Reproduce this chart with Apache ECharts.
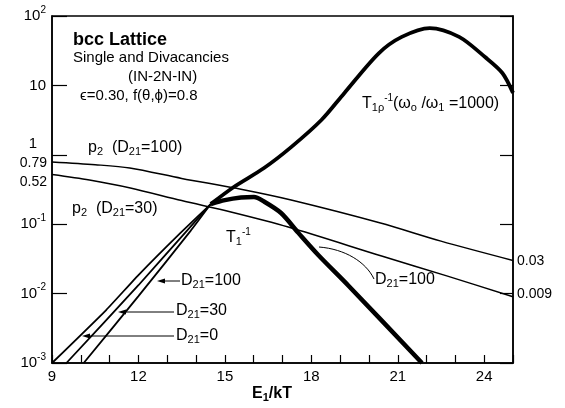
<!DOCTYPE html>
<html><head><meta charset="utf-8">
<script src="https://cdn.jsdelivr.net/npm/echarts@6/dist/echarts.min.js"></script>
<style>html,body{margin:0;padding:0;background:#fff}#c{width:565px;height:408px}</style>
</head><body><div id="c"></div>
<script>
// ---- data ----
const xTickLabels = [9, 12, 15, 18, 21, 24];
const yTickLabels = ['10^2', '10', '1', '10^-1', '10^-2', '10^-3'];

const p2D100X = [9, 10.5, 11.7, 13.5, 15.6, 17.3, 20.4, 22.5, 25];
const p2D100Y = [0.79, 0.72, 0.645, 0.457, 0.316, 0.223, 0.104, 0.057, 0.03];

const p2D30X = [9, 10.3, 11.72, 13.5, 15.21, 17.2, 20.44, 22.7, 25];
const p2D30Y = [0.52, 0.434, 0.333, 0.219, 0.150, 0.091, 0.0348, 0.018, 0.009];

const riseD0X = [9, 10.88, 12, 13.46, 14.51];
const riseD0Y = [0.001, 0.0058, 0.0185, 0.075, 0.195];
const riseD30X = [9.5, 12, 13.64, 14.51];
const riseD30Y = [0.001, 0.0132, 0.077, 0.195];
const riseD100X = [10.1, 12, 13.81, 14.51];
const riseD100Y = [0.001, 0.0092, 0.08, 0.195];

const t1rhoX = [14.51, 15.31, 16.36, 17.30, 18.35, 19.15, 20.34, 21.14, 22.11, 23.13, 24.03, 24.63, 25];
const t1rhoY = [0.195, 0.344, 0.645, 1.29, 3.17, 7.8, 29, 50, 67, 50, 25.6, 15.1, 7.8];

const t1X = [14.51, 15.0, 15.56, 16.01, 16.36, 16.95, 17.55, 18.24, 19.29, 21.84];
const t1Y = [0.195, 0.222, 0.242, 0.247, 0.212, 0.145, 0.075, 0.036, 0.013, 0.001];

function pairs(xs, ys) { return xs.map((x, i) => [x, ys[i]]); }

const FONT = 'Liberation Sans';
const sub = { fontSize: 11, fontFamily: FONT, fill: '#000', padding: [8, 0, 0, 0] };
const sup = { fontSize: 10, fontFamily: FONT, fill: '#000', padding: [0, 0, 12, 0] };
const chart = echarts.init(document.getElementById('c'));

function line(name, xs, ys, w, sm) {
  return { name, type: 'line', data: pairs(xs, ys), showSymbol: false, smooth: sm,
    lineStyle: { color: '#000', width: w }, itemStyle: { color: '#000' }, z: 3, silent: true };
}

function txt(x, y, text, size, extra) {
  return Object.assign({ type: 'text', x, y, z: 10,
    style: { text, fontSize: size, fontFamily: FONT, fill: '#000',
      align: 'left', verticalAlign: 'middle', textAlign: 'left', textVerticalAlign: 'middle',
      rich: { s: Object.assign({}, sub), u: Object.assign({}, sup) } } }, extra || {});
}
function arrowLeft(x1, x2, y) {
  return [
    { type: 'line', shape: { x1: x1 + 4, y1: y, x2: x2, y2: y }, style: { stroke: '#000', lineWidth: 1 } },
    { type: 'polygon', shape: { points: [[x1, y], [x1 + 8, y - 2.5], [x1 + 8, y + 2.5]] }, style: { fill: '#000' } }
  ];
}

const yLabel = (v) => {
  const e = Math.round(Math.log10(v));
  if (e === 0) return '{one|1}';
  if (e === 1) return '10';
  return '10{sup|' + e + '}';
};

chart.setOption({
  animation: false,
  backgroundColor: '#fff',
  grid: { left: 52, right: 52, top: 16, bottom: 45, show: true, borderColor: '#000', borderWidth: 1.5 },
  xAxis: {
    type: 'value', min: 9, max: 25, interval: 1,
    axisLine: { lineStyle: { color: '#000', width: 1.5 } },
    axisTick: { inside: true, length: 8, lineStyle: { color: '#000', width: 1.2 } },
    splitLine: { show: false },
    axisLabel: { color: '#000', fontSize: 15, fontFamily: FONT, margin: 6,
      formatter: (v) => xTickLabels.indexOf(v) >= 0 ? String(v) : '' }
  },
  yAxis: [{
    type: 'log', logBase: 10, min: 0.001, max: 100,
    axisLine: { show: true, lineStyle: { color: '#000', width: 1.5 } },
    axisTick: { show: true, inside: true, length: 15, lineStyle: { color: '#000', width: 1.2 } },
    splitLine: { show: false }, minorTick: { show: false },
    axisLabel: { color: '#000', fontSize: 15, fontFamily: FONT, margin: 6, formatter: yLabel,
      rich: { sup: { fontSize: 10, fontFamily: FONT, padding: [0, 0, 12, 0] },
              one: { fontSize: 15, fontFamily: FONT, padding: [0, 9, 22, 0] } } }
  }, {
    type: 'log', logBase: 10, min: 0.001, max: 100, position: 'right',
    axisLine: { show: true, lineStyle: { color: '#000', width: 1.5 } },
    axisTick: { show: true, inside: true, length: 13, lineStyle: { color: '#000', width: 1.2 } },
    axisLabel: { show: false }, splitLine: { show: false }
  }],
  series: [
    line('p2 D21=100', p2D100X, p2D100Y, 1.5, 0.3),
    line('p2 D21=30', p2D30X, p2D30Y, 1.5, 0.3),
    line('rise D21=0', riseD0X, riseD0Y, 1.8, 0.15),
    line('rise D21=30', riseD30X, riseD30Y, 1.8, 0.15),
    line('rise D21=100', riseD100X, riseD100Y, 1.8, 0.15),
    line('T1rho', t1rhoX, t1rhoY, 3.8, 0.3),
    line('T1', t1X, t1Y, 4.5, 0.3)
  ],
  graphic: [
    txt(73, 40, 'bcc Lattice', 18, { style: { text: 'bcc Lattice', fontSize: 18, fontWeight: 'bold', fontFamily: FONT, fill: '#000', align: 'left', verticalAlign: 'middle' } }),
    txt(73, 58, 'Single and Divacancies', 15),
    txt(128, 77, '(IN-2N-IN)', 15),
    txt(80, 96, 'ϵ=0.30, f(θ,ϕ)=0.8', 15),
    txt(362, 104, 'T{s|1ρ}{u|-1}(ω{s|o} /ω{s|1} =1000)', 16),
    txt(88, 148, 'p{s|2}  (D{s|21}=100)', 16),
    txt(72, 209, 'p{s|2}  (D{s|21}=30)', 16),
    txt(226, 238, 'T{s|1}{u|-1}', 16),
    txt(181, 281, 'D{s|21}=100', 16),
    txt(176, 311, 'D{s|21}=30', 16),
    txt(176, 336, 'D{s|21}=0', 16),
    txt(375, 280, 'D{s|21}=100', 16),
    txt(252, 394, 'E{s|1}/kT', 16, { style: { text: 'E{s|1}/kT', fontSize: 16, fontWeight: 'bold', fontFamily: FONT, fill: '#000', align: 'left', verticalAlign: 'middle', rich: { s: Object.assign({}, sub, { fontWeight: 'bold' }) } } }),
    txt(47, 163, '0.79', 14, { style: { text: '0.79', fontSize: 14, fontFamily: FONT, fill: '#000', align: 'right', verticalAlign: 'middle' } }),
    txt(47, 182, '0.52', 14, { style: { text: '0.52', fontSize: 14, fontFamily: FONT, fill: '#000', align: 'right', verticalAlign: 'middle' } }),
    txt(517, 261, '0.03', 14),
    txt(517, 294, '0.009', 14),
    ...arrowLeft(157, 180, 281),
    ...arrowLeft(118, 174, 312),
    ...arrowLeft(82, 174, 336),
    { type: 'bezierCurve', shape: { x1: 319, y1: 247, cpx1: 345, cpy1: 249, cpx2: 366, cpy2: 262, x2: 374, y2: 279 },
      style: { stroke: '#000', lineWidth: 1, fill: null } }
  ]
});
</script></body></html>
